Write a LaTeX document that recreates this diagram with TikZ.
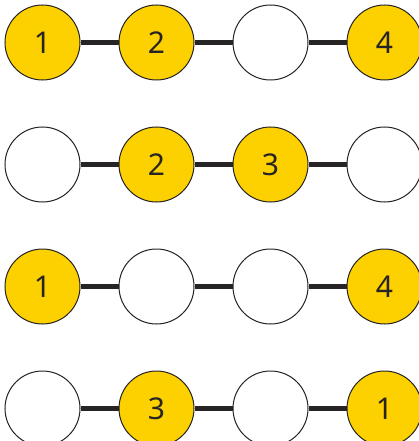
\documentclass[tikz,border=0pt]{standalone}
\usepackage{fontspec}
\setsansfont{Noto Sans}
\usetikzlibrary{positioning}
\definecolor{gold}{RGB}{253,208,0}
\definecolor{ink}{RGB}{38,36,36}

\begin{document}
\begin{tikzpicture}[
    x=1pt, y=-1pt,
    spot/.style={
        circle,
        draw=ink,
        line width=1pt,
        minimum size=75pt,
        inner sep=0pt,
        font=\sffamily\fontsize{30}{30}\selectfont,
        text=ink
    },
    full/.style={spot, fill=gold},
    blank/.style={spot, fill=white},
    link/.style={draw=ink, line width=5pt}
]
\useasboundingbox (0,0) rectangle (418,441);

% ============================================================
% ROW 1
% ============================================================
\node[full] (a1) at (42.5,42.5) {1};
\node[full, right=38pt of a1] (a2) {2};
\node[blank, right=38pt of a2] (a3) {};
\node[full, right=38pt of a3] (a4) {4};

% ============================================================
% ROW 2
% ============================================================
\node[blank, below=46pt of a1] (b1) {};
\node[full, right=38pt of b1] (b2) {2};
\node[full, right=38pt of b2] (b3) {3};
\node[blank, right=38pt of b3] (b4) {};

% ============================================================
% ROW 3
% ============================================================
\node[full, below=46pt of b1] (c1) {1};
\node[blank, right=38pt of c1] (c2) {};
\node[blank, right=38pt of c2] (c3) {};
\node[full, right=38pt of c3] (c4) {4};

% ============================================================
% ROW 4
% ============================================================
\node[blank, below=46pt of c1] (d1) {};
\node[full, right=38pt of d1] (d2) {3};
\node[blank, right=38pt of d2] (d3) {};
\node[full, right=38pt of d3] (d4) {1};

% links between neighbours
\foreach \r in {a,b,c,d}{
    \draw[link] (\r1) -- (\r2);
    \draw[link] (\r2) -- (\r3);
    \draw[link] (\r3) -- (\r4);
}

\end{tikzpicture}
\end{document}
